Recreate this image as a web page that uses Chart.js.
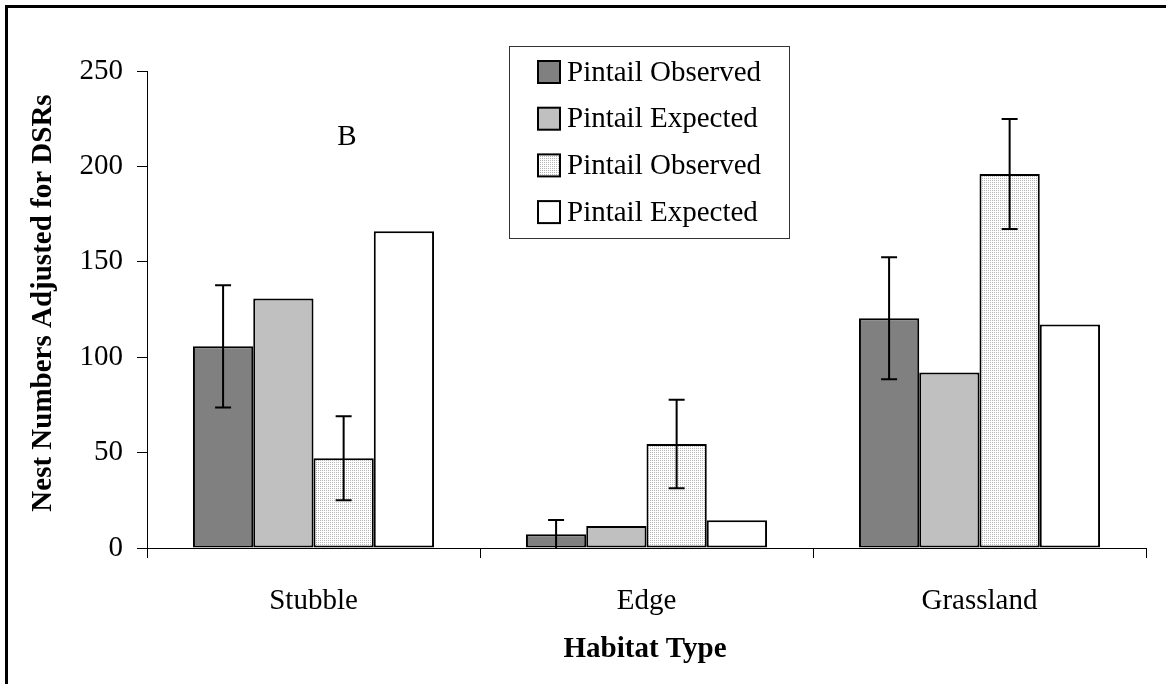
<!DOCTYPE html>
<html>
<head>
<meta charset="utf-8">
<script src="https://cdn.jsdelivr.net/npm/chart.js@4.4.0/dist/chart.umd.min.js"></script>
<style>
  html, body { margin: 0; padding: 0; background: #fff; }
  canvas { display: block; }
</style>
</head>
<body>
<canvas id="chart" width="1166" height="684"></canvas>
<script>
// values
const categories = ['Stubble', 'Edge', 'Grassland'];
const seriesNames = ['Pintail Observed', 'Pintail Expected', 'Pintail Observed', 'Pintail Expected'];
const obsA = [105.7, 7.2, 120.4];
const obsAErr = [32, 7.5, 32];
const expA = [130.7, 11.5, 92];
const obsB = [47, 54.5, 196];
const obsBErr = [22, 23.2, 28.8];
const expB = [166, 14.5, 117.2];
const yMin = 0, yMax = 250, yStep = 50;

const SERIF = "'Liberation Serif', 'Times New Roman', serif";

// light stipple fill for the third series
function stipple() {
    const c = document.createElement('canvas');
    c.width = 2; c.height = 2;
    const g = c.getContext('2d');
    g.fillStyle = '#ffffff';
    g.fillRect(0, 0, 2, 2);
    g.fillStyle = '#b4b4b4';
    g.fillRect(0, 0, 1, 1);
    return g.createPattern(c, 'repeat');
}

const ctx = document.getElementById('chart').getContext('2d');
const fills = ['#808080', '#c0c0c0', stipple(), '#ffffff'];
const values = [obsA, expA, obsB, expB];
const errors = [obsAErr, null, obsBErr, null];

const errorBars = {
    id: 'errorBars',
    afterDatasetsDraw(chart) {
        const g = chart.ctx;
        const y = chart.scales.y;
        const bottom = chart.chartArea.bottom;
        g.save();
        g.strokeStyle = '#000';
        g.lineWidth = 2;
        chart.data.datasets.forEach((ds, i) => {
            if (!errors[i]) return;
            chart.getDatasetMeta(i).data.forEach((bar, j) => {
                const v = ds.data[j], e = errors[i][j];
                const top = y.getPixelForValue(v + e);
                const low = Math.min(y.getPixelForValue(v - e), bottom);
                g.beginPath();
                g.moveTo(bar.x, top); g.lineTo(bar.x, low);
                g.moveTo(bar.x - 8, top); g.lineTo(bar.x + 8, top);
                if (low < bottom) { g.moveTo(bar.x - 8, low); g.lineTo(bar.x + 8, low); }
                g.stroke();
            });
        });
        g.restore();
    }
};

const decorations = {
    id: 'decorations',
    afterDraw(chart) {
        const g = chart.ctx;
        g.save();
        // outer frame (top and left edges)
        g.fillStyle = '#000';
        g.fillRect(5, 5, 1161, 3);
        g.fillRect(5, 5, 3, 679);

        // legend box
        g.fillStyle = '#fff';
        g.fillRect(509, 46, 281, 193);
        g.strokeStyle = '#333';
        g.lineWidth = 1;
        g.strokeRect(509.5, 46.5, 280, 192);
        g.font = '29px ' + SERIF;
        g.textBaseline = 'middle';
        g.textAlign = 'left';
        chart.data.datasets.forEach((ds, i) => {
            const cy = 72 + i * 46.7;
            g.fillStyle = ds.backgroundColor;
            g.fillRect(538, cy - 11, 22, 22);
            g.strokeStyle = '#000';
            g.lineWidth = 2;
            g.strokeRect(538, cy - 11, 22, 22);
            g.fillStyle = '#000';
            g.fillText(ds.label, 567, cy + 1);
        });

        // panel letter
        g.font = '29px ' + SERIF;
        g.textAlign = 'center';
        g.fillText('B', 347, 137);

        // axis titles
        g.font = 'bold 29px ' + SERIF;
        g.fillText('Habitat Type', 645, 650);
        g.translate(44, 303);
        g.rotate(-Math.PI / 2);
        g.fillText('Nest Numbers Adjusted for DSRs', 0, 0);
        g.restore();
    }
};

new Chart(ctx, {
    type: 'bar',
    data: {
        labels: categories,
        datasets: seriesNames.map((name, i) => ({
            label: name,
            data: values[i],
            backgroundColor: fills[i],
            borderColor: '#000',
            borderWidth: 2,
            borderSkipped: false,
            barPercentage: 1.0,
            categoryPercentage: 0.724
        }))
    },
    options: {
        responsive: false,
        animation: false,
        layout: { padding: { left: 0, top: 71, right: 20, bottom: 0 } },
        scales: {
            x: {
                afterFit(scale) { scale.height = 136; },
                border: { display: true, color: '#000', width: 1 },
                grid: {
                    offset: true,
                    drawOnChartArea: false,
                    drawTicks: true,
                    tickLength: 10,
                    color: '#000'
                },
                ticks: {
                    color: '#000',
                    padding: 26,
                    font: { family: SERIF, size: 29 }
                }
            },
            y: {
                min: yMin,
                max: yMax,
                afterFit(scale) { scale.width = 147; },
                border: { display: true, color: '#000', width: 1 },
                grid: {
                    drawOnChartArea: false,
                    drawTicks: true,
                    tickLength: 10,
                    color: '#000'
                },
                ticks: {
                    stepSize: yStep,
                    color: '#000',
                    padding: 14,
                    font: { family: SERIF, size: 29 }
                }
            }
        },
        plugins: {
            legend: { display: false },
            tooltip: { enabled: false }
        }
    },
    plugins: [errorBars, decorations]
});
</script>
</body>
</html>
